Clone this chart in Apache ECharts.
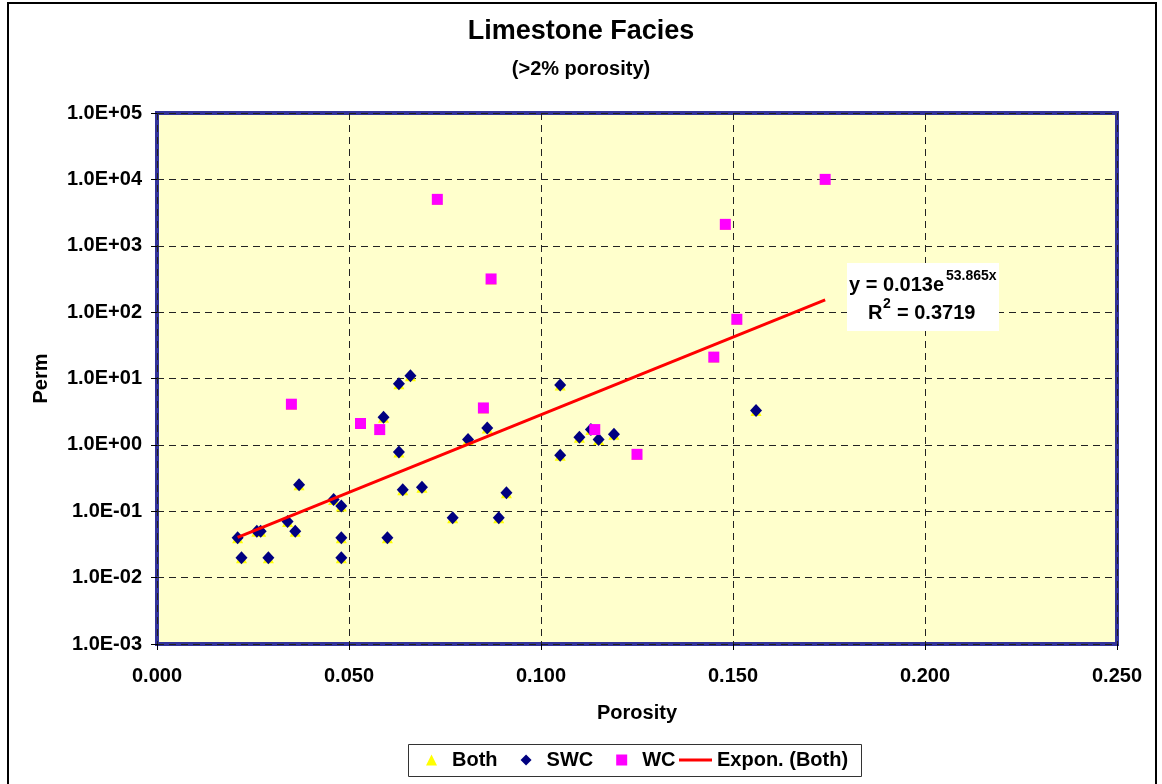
<!DOCTYPE html>
<html>
<head>
<meta charset="utf-8">
<title>Limestone Facies</title>
<script src="https://cdn.jsdelivr.net/npm/echarts@6/dist/echarts.min.js"></script>
<style>
  html, body { margin: 0; padding: 0; background: #ffffff; }
  #chart { width: 1162px; height: 784px; }
</style>
</head>
<body>
<div id="chart"></div>
<script>
// Sidewall core (SWC) samples: porosity (fraction) and permeability (mD)
const swcPorosity = [0.021, 0.022, 0.026, 0.027, 0.029, 0.034, 0.036, 0.037, 0.046, 0.048,
                     0.048, 0.048, 0.059, 0.060, 0.063, 0.063, 0.064, 0.066, 0.069, 0.077,
                     0.081, 0.086, 0.089, 0.091, 0.105, 0.105, 0.110, 0.113, 0.115, 0.119, 0.156];
const swcPerm     = [0.04, 0.02, 0.05, 0.05, 0.02, 0.07, 0.05, 0.25, 0.15, 0.12,
                     0.04, 0.02, 2.6, 0.04, 8.3, 0.78, 0.21, 11, 0.23, 0.08,
                     1.2, 1.8, 0.08, 0.19, 8.0, 0.7, 1.3, 1.7, 1.2, 1.45, 3.3];

// Whole core (WC) samples
const wcPorosity = [0.035, 0.053, 0.058, 0.073, 0.085, 0.087, 0.114, 0.125, 0.145, 0.148, 0.151, 0.174];
const wcPerm     = [4.1, 2.1, 1.7, 5000, 3.6, 316, 1.7, 0.72, 21, 2100, 78, 10000];

// Exponential trendline fitted to both sample sets: y = a * e^(b x)
const trendA = 0.013;
const trendB = 53.865;
const trendR2 = 0.3719;

// Axis tick labels
const xTickLabels = ['0.000', '0.050', '0.100', '0.150', '0.200', '0.250'];
const yTickLabels = ['1.0E-03', '1.0E-02', '1.0E-01', '1.0E+00', '1.0E+01', '1.0E+02', '1.0E+03', '1.0E+04', '1.0E+05'];

const swcData = swcPorosity.map((x, i) => [x, swcPerm[i]]);
const wcData = wcPorosity.map((x, i) => [x, wcPerm[i]]);
const bothData = swcData.concat(wcData);

const allX = bothData.map(d => d[0]);
const xMin = Math.min.apply(null, allX);
const xMax = Math.max.apply(null, allX);
const trendData = [[xMin, trendA * Math.exp(trendB * xMin)], [xMax, trendA * Math.exp(trendB * xMax)]];

const FONT = '"Liberation Sans", Arial, sans-serif';
const boldText = (size) => ({ fontFamily: FONT, fontSize: size, fontWeight: 'bold', color: '#000' });
const chart = echarts.init(document.getElementById('chart'), null, { renderer: 'canvas' });

chart.setOption({
  backgroundColor: '#ffffff',
  animation: false,
  textStyle: { fontFamily: FONT },
  title: {
    text: 'Limestone Facies',
    subtext: '(>2% porosity)',
    left: 'center',
    top: 13,
    itemGap: 14,
    textStyle: boldText(27),
    subtextStyle: boldText(20)
  },
  grid: {
    left: 157, top: 113, width: 960, height: 531,
    show: true,
    backgroundColor: '#ffffcc',
    borderColor: '#33339a',
    borderWidth: 4
  },
  legend: [
    {
      // marker entries
      left: 426, top: 745,
      padding: [5, 0, 5, 0],
      itemGap: 23,
      itemWidth: 11, itemHeight: 11,
      textStyle: Object.assign(boldText(20), { padding: [0, 0, 0, 10] }),
      data: [
        { name: 'Both', icon: 'triangle' },
        { name: 'SWC', icon: 'diamond' },
        { name: 'WC', icon: 'rect' }
      ]
    },
    {
      // trendline entry
      left: 679, top: 745,
      padding: [5, 0, 5, 0],
      itemWidth: 33, itemHeight: 3,
      textStyle: boldText(20),
      data: [{ name: 'Expon. (Both)', icon: 'rect' }]
    }
  ],
  xAxis: {
    type: 'value',
    min: 0, max: 0.25, interval: 0.05,
    name: 'Porosity',
    nameLocation: 'middle',
    nameGap: 59,
    nameTextStyle: boldText(20),
    axisLine: { show: false },
    axisTick: { show: true, length: 6, lineStyle: { color: '#000', width: 1 } },
    axisLabel: Object.assign(boldText(20), {
      margin: 22,
      formatter: v => xTickLabels[Math.round(v / 0.05)]
    }),
    splitLine: { show: true, lineStyle: { color: '#222', width: 1, type: [7, 5] } }
  },
  yAxis: {
    type: 'log',
    logBase: 10,
    min: 0.001, max: 100000,
    interval: 1,
    splitNumber: 8,
    name: 'Perm',
    nameLocation: 'middle',
    nameGap: 106,
    nameRotate: 90,
    nameTextStyle: boldText(20),
    axisLine: { show: false },
    axisTick: { show: true, length: 6, lineStyle: { color: '#000', width: 1 } },
    axisLabel: Object.assign(boldText(20), {
      margin: 15,
      formatter: v => yTickLabels[Math.round(Math.log10(v)) + 3]
    }),
    minorTick: { show: false },
    splitLine: { show: true, lineStyle: { color: '#222', width: 1, type: [7, 5] } }
  },
  series: [
    {
      name: 'Both',
      type: 'scatter',
      symbol: 'triangle',
      symbolSize: 11,
      itemStyle: { color: '#ffff00', opacity: 1 },
      data: bothData,
      z: 2
    },
    {
      name: 'SWC',
      type: 'scatter',
      symbol: 'diamond',
      symbolSize: [12, 13],
      itemStyle: { color: '#000080', opacity: 1 },
      data: swcData,
      z: 3
    },
    {
      name: 'WC',
      type: 'scatter',
      symbol: 'rect',
      symbolSize: 11,
      itemStyle: { color: '#ff00ff', opacity: 1 },
      data: wcData,
      z: 4
    },
    {
      name: 'Expon. (Both)',
      type: 'line',
      symbol: 'none',
      showSymbol: false,
      lineStyle: { color: '#ff0000', width: 3 },
      itemStyle: { color: '#ff0000' },
      data: trendData,
      z: 5
    }
  ],
  graphic: [
    {
      type: 'rect',
      silent: true,
      shape: { x: 8, y: 3, width: 1148, height: 790 },
      style: { fill: 'none', stroke: '#000', lineWidth: 2 },
      z: 100
    },
    {
      // legend frame
      type: 'rect',
      silent: true,
      shape: { x: 408.5, y: 744.5, width: 453, height: 32 },
      style: { fill: '#ffffff', stroke: '#333', lineWidth: 1 },
      z: -1
    },
    {
      type: 'rect',
      shape: { x: 847, y: 263, width: 152, height: 68 },
      style: { fill: '#ffffff' },
      z: 50
    },
    {
      type: 'text', x: 849, y: 285, z: 51,
      style: { text: 'y = ' + trendA.toFixed(3) + 'e', font: 'bold 20px ' + FONT, fill: '#000', verticalAlign: 'middle' }
    },
    {
      type: 'text', x: 946, y: 276, z: 51,
      style: { text: trendB.toFixed(3) + 'x', font: 'bold 14px ' + FONT, fill: '#000', verticalAlign: 'middle' }
    },
    {
      type: 'text', x: 868, y: 313, z: 51,
      style: { text: 'R', font: 'bold 20px ' + FONT, fill: '#000', verticalAlign: 'middle' }
    },
    {
      type: 'text', x: 883, y: 304, z: 51,
      style: { text: '2', font: 'bold 14px ' + FONT, fill: '#000', verticalAlign: 'middle' }
    },
    {
      type: 'text', x: 897, y: 313, z: 51,
      style: { text: '= ' + trendR2.toFixed(4), font: 'bold 20px ' + FONT, fill: '#000', verticalAlign: 'middle' }
    }
  ]
});
</script>
</body>
</html>
